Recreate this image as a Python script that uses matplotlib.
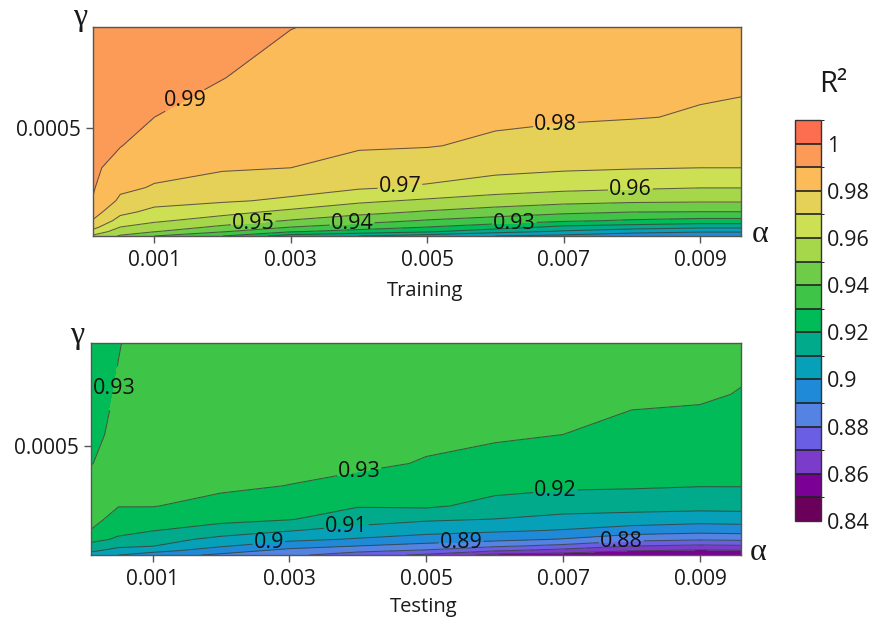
import numpy as np
import matplotlib
matplotlib.use("Agg")
import matplotlib.pyplot as plt
from matplotlib.colors import ListedColormap, BoundaryNorm

plt.rcParams['font.family'] = ['Open Sans', 'DejaVu Sans']

# ---------------- data ----------------
alpha = [0.0001, 0.0005, 0.001, 0.002, 0.003, 0.004, 0.005, 0.006, 0.007, 0.008, 0.009, 0.0096]
gamma = [0.00001, 0.00003, 0.00005, 0.00008, 0.00012, 0.00017, 0.00023, 0.00032,
         0.00042, 0.00055, 0.00073, 0.00096]

# R^2 values, one list per alpha column (values along gamma, bottom to top)
r2_training = [
    [0.958, 0.967, 0.9728, 0.9794, 0.9841, 0.9896, 0.9907, 0.9918, 0.993, 0.9938, 0.995, 0.997],
    [0.949, 0.9543, 0.9598, 0.9664, 0.9726, 0.9781, 0.982, 0.9862, 0.9903, 0.9918, 0.9935, 0.995],
    [0.94, 0.9504, 0.9553, 0.9617, 0.9675, 0.9733, 0.9793, 0.9826, 0.9858, 0.99, 0.9914, 0.993],
    [0.93, 0.9407, 0.948, 0.9554, 0.9635, 0.9711, 0.9759, 0.9809, 0.9833, 0.9864, 0.9902, 0.9915],
    [0.915, 0.9308, 0.9398, 0.9494, 0.9575, 0.9685, 0.9732, 0.98, 0.9816, 0.9837, 0.9865, 0.9902],
    [0.91, 0.926, 0.9347, 0.9443, 0.9532, 0.9618, 0.9711, 0.9777, 0.9806, 0.9833, 0.9858, 0.9882],
    [0.905, 0.9213, 0.9297, 0.9392, 0.9491, 0.9585, 0.9688, 0.9751, 0.9804, 0.9823, 0.9845, 0.986],
    [0.90, 0.9135, 0.9245, 0.9355, 0.9458, 0.9555, 0.9649, 0.973, 0.9786, 0.9813, 0.9835, 0.985],
    [0.897, 0.9085, 0.917, 0.9318, 0.9424, 0.9532, 0.9626, 0.9715, 0.9762, 0.981, 0.982, 0.984],
    [0.893, 0.9035, 0.9145, 0.9288, 0.9403, 0.9518, 0.9613, 0.9706, 0.9748, 0.9804, 0.9815, 0.9835],
    [0.892, 0.901, 0.912, 0.9268, 0.9399, 0.9513, 0.9602, 0.97, 0.9741, 0.9794, 0.9813, 0.9835],
    [0.892, 0.901, 0.912, 0.9268, 0.9399, 0.9513, 0.9602, 0.97, 0.9737, 0.9781, 0.9818, 0.985],
]

r2_testing = [
    [0.905, 0.912, 0.9166, 0.9228, 0.9296, 0.9335, 0.9355, 0.934, 0.9297, 0.9275, 0.926, 0.925],
    [0.90, 0.9064, 0.9119, 0.9186, 0.9224, 0.926, 0.9303, 0.9325, 0.9335, 0.9325, 0.931, 0.9295],
    [0.895, 0.9035, 0.9102, 0.9146, 0.9203, 0.9244, 0.9304, 0.9325, 0.9345, 0.935, 0.9352, 0.935],
    [0.888, 0.895, 0.9009, 0.9069, 0.9159, 0.9224, 0.9266, 0.9319, 0.934, 0.935, 0.9355, 0.9355],
    [0.882, 0.887, 0.8941, 0.9022, 0.9106, 0.9205, 0.9252, 0.9298, 0.933, 0.9345, 0.9355, 0.936],
    [0.875, 0.8825, 0.8898, 0.8991, 0.9061, 0.9148, 0.9206, 0.9265, 0.9321, 0.934, 0.935, 0.936],
    [0.868, 0.8788, 0.8865, 0.8949, 0.9041, 0.9112, 0.9216, 0.926, 0.9293, 0.9322, 0.9335, 0.935],
    [0.857, 0.8713, 0.8815, 0.8927, 0.9016, 0.9098, 0.917, 0.9229, 0.927, 0.9312, 0.9327, 0.934],
    [0.855, 0.8663, 0.8772, 0.8893, 0.8994, 0.9071, 0.9145, 0.9215, 0.9252, 0.93, 0.932, 0.9335],
    [0.852, 0.8606, 0.8698, 0.8832, 0.8956, 0.9058, 0.9138, 0.9211, 0.924, 0.9278, 0.9314, 0.933],
    [0.85, 0.8588, 0.8678, 0.8812, 0.8938, 0.9041, 0.9135, 0.9203, 0.9232, 0.9265, 0.9312, 0.933],
    [0.851, 0.8595, 0.8685, 0.882, 0.8945, 0.9045, 0.9138, 0.9203, 0.9228, 0.9254, 0.9296, 0.9325],
]

levels = [0.84, 0.85, 0.86, 0.87, 0.88, 0.89, 0.90, 0.91, 0.92, 0.93, 0.94,
          0.95, 0.96, 0.97, 0.98, 0.99, 1.00, 1.01]
band_colors = ['#6b005a', '#7a0096', '#7b3dc9', '#6a5fe4', '#5483e3', '#1f8bd8',
               '#07a0b9', '#00aa8b', '#00bb58', '#3ec548', '#6fcc48', '#a6d74b',
               '#cde053', '#e5d058', '#fbbb59', '#fc9a58', '#fd6e51']
cbar_ticks = [0.84, 0.86, 0.88, 0.90, 0.92, 0.94, 0.96, 0.98, 1.00]
alpha_ticks = [0.001, 0.003, 0.005, 0.007, 0.009]
gamma_ticks = [0.0005]
panel_titles = ['Training', 'Testing']

# label anchor points (alpha, gamma) for contour labels
train_label_pts = [(0.0015, 0.000596), (0.00688, 0.000515), (0.0046, 0.000233),
                   (0.00798, 0.000224), (0.00245, 0.0000645), (0.0039, 0.0000645),
                   (0.00628, 0.0000600)]
test_label_pts = [(0.0006, 0.000749), (0.00402, 0.000382), (0.00689, 0.000283),
                  (0.00383, 0.000144), (0.0027, 0.0000638), (0.00551, 0.0000638),
                  (0.00785, 0.0000727)]

# ---------------- figure ----------------
cmap = ListedColormap(band_colors)
norm = BoundaryNorm(levels, cmap.N)

W, H = 875, 623
fig = plt.figure(figsize=(W / 100, H / 100), dpi=100)
ax1 = fig.add_axes([93 / W, 1 - 236 / H, 648 / W, 209 / H])
ax2 = fig.add_axes([91 / W, 1 - 555 / H, 650 / W, 212 / H])
cax = fig.add_axes([795 / W, 1 - 521 / H, 26 / W, 401 / H])

A, G = np.meshgrid(alpha, gamma)


def fmt(v):
    return f"{round(v, 2):g}"


for ax, data, title, pts, lab_y in [(ax1, r2_training, panel_titles[0], train_label_pts, -0.213),
                                    (ax2, r2_testing, panel_titles[1], test_label_pts, -0.200)]:
    Z = np.array(data).T
    cf = ax.contourf(A, G, Z, levels=levels, cmap=cmap, norm=norm)
    cs = ax.contour(A, G, Z, levels=levels, colors='#3c3c3c', linewidths=0.75, alpha=0.8)
    ax.set_xlim(alpha[0], alpha[-1])
    ax.set_ylim(gamma[0], gamma[-1])
    texts = ax.clabel(cs, manual=pts, inline=True, inline_spacing=1, fmt=fmt,
                      fontsize=15.5, colors='black')
    for t in texts:
        t.set_rotation(0)
        t.set_alpha(1)
        t.set_color('#111111')
    ax.set_xticks(alpha_ticks)
    ax.set_xticklabels([f"{v:g}" for v in alpha_ticks])
    ax.set_yticks(gamma_ticks)
    ax.set_yticklabels(['0.0005'])
    ax.tick_params(axis='x', direction='out', length=5, width=1, color='#555555',
                   labelsize=15, pad=5, labelcolor='#1a1a1a')
    ax.tick_params(axis='y', direction='out', length=5, width=1, color='#555555',
                   labelsize=15, pad=4, labelcolor='#1a1a1a')
    for s in ax.spines.values():
        s.set_color('#555555')
        s.set_linewidth(1)
    ax.set_xlabel(title, fontsize=14.5, color='#1a1a1a')
    ax.xaxis.set_label_coords(0.512, lab_y)

cb = fig.colorbar(cf, cax=cax, ticks=cbar_ticks, drawedges=True)
cb.ax.set_yticklabels([fmt(v) for v in cbar_ticks])
cb.ax.tick_params(length=0, labelsize=15.5, pad=4, labelcolor='#1a1a1a')
cb.outline.set_edgecolor('#333333')
cb.outline.set_linewidth(1)
cb.dividers.set_color('#222222')
cb.dividers.set_linewidth(1.2)

sym = dict(family=['Liberation Serif', 'DejaVu Serif'], fontsize=23, color='#1a1a1a',
           ha='center', va='center')
fig.text(80 / W, 1 - 17 / H, 'γ', **sym)
fig.text(77 / W, 1 - 336 / H, 'γ', **sym)
fig.text(760 / W, 1 - 234 / H, 'α', **sym)
fig.text(758 / W, 1 - 553 / H, 'α', **sym)
fig.text(833 / W, 1 - 84 / H, 'R²', fontsize=21, ha='center', va='center', color='#1a1a1a')

fig.savefig('out.png', dpi=100)
